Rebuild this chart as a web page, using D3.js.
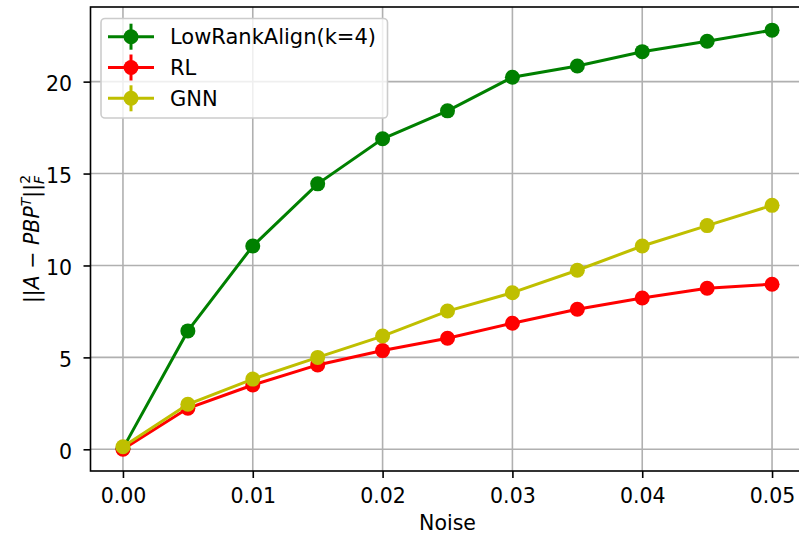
<!DOCTYPE html>
<html>
<head>
<meta charset="utf-8">
<script src="https://cdn.jsdelivr.net/npm/d3@7"></script>
<style>
  html, body { margin: 0; padding: 0; background: #fff; }
  svg { display: block; font-family: 'DejaVu Sans', sans-serif; }
</style>
</head>
<body>
<div id="chart"></div>
<script>
// noise levels on the x axis
var noise = [0, 0.005, 0.01, 0.015, 0.02, 0.025, 0.03, 0.035, 0.04, 0.045, 0.05];

// series values
var lowRankAlign = [0.05, 6.44, 11.06, 14.44, 16.89, 18.41, 20.24, 20.85, 21.63, 22.2, 22.8];
var rl = [0.0, 2.23, 3.5, 4.59, 5.37, 6.04, 6.86, 7.62, 8.23, 8.76, 8.98];
var gnn = [0.14, 2.45, 3.82, 5.0, 6.16, 7.52, 8.52, 9.74, 11.06, 12.17, 13.27];

var xTicks = [0, 0.01, 0.02, 0.03, 0.04, 0.05];
var yTicks = [0, 5, 10, 15, 20];

var series = [
    {name: 'LowRankAlign(k=4)', values: lowRankAlign, color: '#008000'},
    {name: 'RL', values: rl, color: '#ff0000'},
    {name: 'GNN', values: gnn, color: '#bfbf00'}
];

var width = 799, height = 535;
var plot = {left: 90.5, right: 804.5, top: 7, bottom: 471};

var svg = d3.select('#chart').append('svg')
    .attr('width', width)
    .attr('height', height);

var x = d3.scaleLinear()
    .domain([-0.0025, 0.0525])
    .range([plot.left, plot.right]);

var y = d3.scaleLinear()
    .domain([-1.18, 24.06])
    .range([plot.bottom, plot.top]);

// grid
var grid = svg.append('g').attr('class', 'grid')
    .attr('stroke', '#b0b0b0')
    .attr('stroke-width', 1.6);

grid.selectAll('line.gx')
    .data(xTicks)
    .enter().append('line')
    .attr('class', 'gx')
    .attr('x1', function(d) { return x(d); })
    .attr('x2', function(d) { return x(d); })
    .attr('y1', plot.top)
    .attr('y2', plot.bottom);

grid.selectAll('line.gy')
    .data(yTicks)
    .enter().append('line')
    .attr('class', 'gy')
    .attr('x1', plot.left)
    .attr('x2', plot.right)
    .attr('y1', function(d) { return y(d); })
    .attr('y2', function(d) { return y(d); });

// axes
var xAxis = d3.axisBottom(x)
    .tickValues(xTicks)
    .tickFormat(d3.format('.2f'))
    .tickSize(7)
    .tickPadding(10)
    .tickSizeOuter(0);

var yAxis = d3.axisLeft(y)
    .tickValues(yTicks)
    .tickFormat(d3.format('d'))
    .tickSize(7)
    .tickPadding(11.5)
    .tickSizeOuter(0);

function styleAxis(g) {
    g.select('.domain').remove();
    g.selectAll('.tick line').attr('stroke', '#000').attr('stroke-width', 1.6);
    g.selectAll('.tick text')
        .attr('fill', '#000')
        .style('font-size', '20.5px')
        .style('font-family', "'DejaVu Sans', sans-serif");
}

svg.append('g')
    .attr('transform', 'translate(0,' + plot.bottom + ')')
    .call(xAxis)
    .call(styleAxis);

svg.append('g')
    .attr('transform', 'translate(' + plot.left + ',0)')
    .call(yAxis)
    .call(styleAxis)
    .selectAll('.tick text').attr('dy', '0.44em');

// spines
svg.append('rect')
    .attr('x', plot.left)
    .attr('y', plot.top)
    .attr('width', plot.right - plot.left)
    .attr('height', plot.bottom - plot.top)
    .attr('fill', 'none')
    .attr('stroke', '#000')
    .attr('stroke-width', 1.6);

// lines and markers
var line = d3.line()
    .x(function(d, i) { return x(noise[i]); })
    .y(function(d) { return y(d); });

series.forEach(function(s) {
    var g = svg.append('g');
    g.append('path')
        .datum(s.values)
        .attr('d', line)
        .attr('fill', 'none')
        .attr('stroke', s.color)
        .attr('stroke-width', 3);
    g.selectAll('circle')
        .data(s.values)
        .enter().append('circle')
        .attr('cx', function(d, i) { return x(noise[i]); })
        .attr('cy', function(d) { return y(d); })
        .attr('r', 7.5)
        .attr('fill', s.color);
});

// legend
var legend = svg.append('g').attr('class', 'legend');
legend.append('rect')
    .attr('x', 101)
    .attr('y', 18.5)
    .attr('width', 286.5)
    .attr('height', 99.5)
    .attr('rx', 4)
    .attr('fill', '#fff')
    .attr('fill-opacity', 0.8)
    .attr('stroke', '#cccccc')
    .attr('stroke-width', 1.6);

var rows = legend.selectAll('g.row')
    .data(series)
    .enter().append('g')
    .attr('class', 'row')
    .attr('transform', function(d, i) { return 'translate(0,' + (36.7 + i * 30.8) + ')'; });

rows.append('line')
    .attr('x1', 108).attr('x2', 154)
    .attr('y1', 0).attr('y2', 0)
    .attr('stroke', function(d) { return d.color; })
    .attr('stroke-width', 3);
rows.append('line')
    .attr('x1', 131).attr('x2', 131)
    .attr('y1', -13).attr('y2', 13)
    .attr('stroke', function(d) { return d.color; })
    .attr('stroke-width', 3);
rows.append('circle')
    .attr('cx', 131).attr('cy', 0)
    .attr('r', 7.5)
    .attr('fill', function(d) { return d.color; });
rows.append('text')
    .attr('x', 170)
    .attr('y', 0)
    .attr('dy', '0.36em')
    .style('font-size', '21px')
    .text(function(d) { return d.name; });

// axis labels
svg.append('text')
    .attr('x', (plot.left + plot.right) / 2)
    .attr('y', 530)
    .attr('text-anchor', 'middle')
    .style('font-size', '20.5px')
    .text('Noise');

var ylab = svg.append('text')
    .attr('transform', 'translate(39,' + ((plot.top + plot.bottom) / 2) + ') rotate(-90)')
    .attr('text-anchor', 'middle')
    .style('font-size', '20.5px');
ylab.append('tspan').text('||');
ylab.append('tspan').style('font-style', 'italic').text('A');
ylab.append('tspan').text(' \u2212 ');
ylab.append('tspan').style('font-style', 'italic').text('PBP');
ylab.append('tspan').style('font-style', 'italic').style('font-size', '14px')
    .attr('dy', -8).text('T');
ylab.append('tspan').attr('dy', 8).text('||');
ylab.append('tspan').style('font-size', '14px').attr('dy', -9).text('2');
ylab.append('tspan').style('font-style', 'italic').style('font-size', '14px')
    .attr('dx', -9).attr('dy', 14).text('F');
</script>
</body>
</html>
